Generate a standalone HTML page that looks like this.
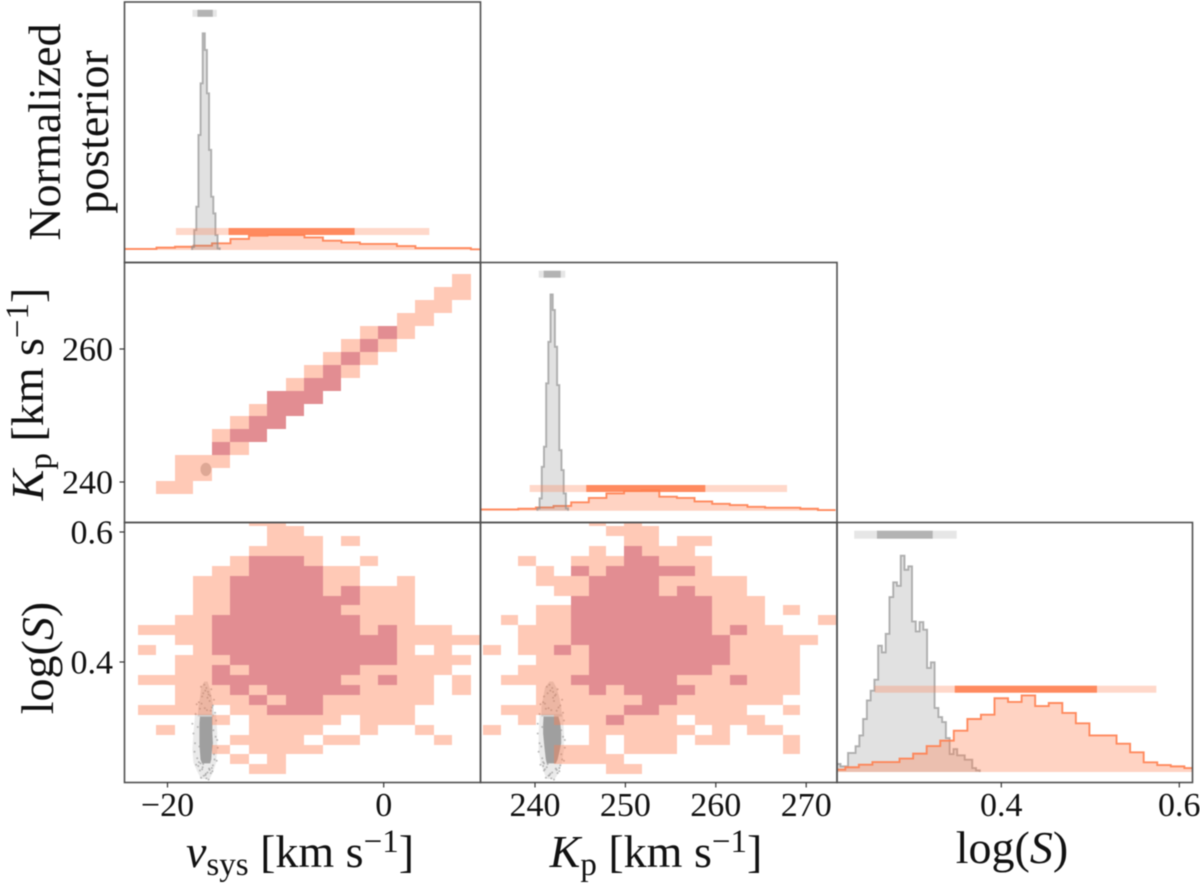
<!DOCTYPE html>
<html lang="en">
<head>
<meta charset="utf-8">
<title>Corner plot of posterior samples</title>
<style>
html,body{margin:0;padding:0;background:#fff;width:1200px;height:884px;overflow:hidden}
#chart{display:block;filter:blur(.45px)}
text{font-family:"Liberation Serif",serif;fill:#111}
.tick-label{font-size:34px}
.title{font-size:46px}
.sm{font-size:33px}
.it{font-style:italic}
.frame{fill:none;stroke:#505050;stroke-width:1.6}
.tick{stroke:#333;stroke-width:1.2}
</style>
</head>
<body>
<svg id="chart" xmlns="http://www.w3.org/2000/svg" width="1200" height="884" viewBox="0 0 1200 884">
<defs>
<clipPath id="clip-a"><rect x="124.5" y="2" width="356" height="260.5"/></clipPath>
<clipPath id="clip-b"><rect x="124.5" y="262.5" width="356" height="260"/></clipPath>
<clipPath id="clip-c"><rect x="124.5" y="522.5" width="356" height="260"/></clipPath>
<clipPath id="clip-d"><rect x="480.5" y="262.5" width="356.5" height="260"/></clipPath>
<clipPath id="clip-e"><rect x="480.5" y="522.5" width="356.5" height="260"/></clipPath>
<clipPath id="clip-f"><rect x="837" y="522.5" width="355.5" height="260"/></clipPath>
</defs>
<g id="layer-marks"></g>
<rect class="frame" x="124.5" y="2" width="356" height="260.5"/>
<rect class="frame" x="124.5" y="262.5" width="356" height="260"/>
<rect class="frame" x="124.5" y="522.5" width="356" height="260"/>
<rect class="frame" x="480.5" y="262.5" width="356.5" height="260"/>
<rect class="frame" x="480.5" y="522.5" width="356.5" height="260"/>
<rect class="frame" x="837" y="522.5" width="355.5" height="260"/>
<g id="layer-ticks"></g>
<text class="title" x="300" y="867" text-anchor="middle"><tspan class="it">v</tspan><tspan class="sm" baseline-shift="-8">sys</tspan> [km s<tspan class="sm" baseline-shift="15">−1</tspan>]</text>
<text class="title" x="656" y="867" text-anchor="middle"><tspan class="it">K</tspan><tspan class="sm" baseline-shift="-8">p</tspan> [km s<tspan class="sm" baseline-shift="15">−1</tspan>]</text>
<text class="title" x="1012" y="863" text-anchor="middle">log(<tspan class="it">S</tspan>)</text>
<text class="title" transform="translate(60 132) rotate(-90)" text-anchor="middle">Normalized</text>
<text class="title" transform="translate(108 132) rotate(-90)" text-anchor="middle">posterior</text>
<text class="title" transform="translate(43 394) rotate(-90)" text-anchor="middle"><tspan class="it">K</tspan><tspan class="sm" baseline-shift="-8">p</tspan> [km s<tspan class="sm" baseline-shift="15">−1</tspan>]</text>
<text class="title" transform="translate(53 658) rotate(-90)" text-anchor="middle">log(<tspan class="it">S</tspan>)</text>
</svg>
<script>
/* ---------- data ---------- */
const vsysTicks = [-20, 0];
const kpXTicks = [240, 250, 260, 270];
const kpYTicks = [240, 260];
const logsYTicks = [0.4, 0.6];
const logsXTicks = [0.4, 0.6];

/* 2D histogram bin layout, data units */
const vsysBinStart = -22.73;
const vsysBinWidth = 1.711;
const kpBinStart = 234.25;
const kpBinWidth = 1.95;
const logsBinTop = 0.6245;
const logsBinWidth = 0.01528;

/* credibility level of each bin: 0 outside, 1 = 2 sigma, 2 = 1 sigma */
const levelsKpVsys = [
[0,0,0,0,0,0,0,0,0,0,0,0,0,0,0,0,0,1,0],
[0,0,0,0,0,0,0,0,0,0,0,0,0,0,0,0,1,1,0],
[0,0,0,0,0,0,0,0,0,0,0,0,0,0,0,1,1,0,0],
[0,0,0,0,0,0,0,0,0,0,0,0,0,0,1,1,0,0,0],
[0,0,0,0,0,0,0,0,0,0,0,0,1,2,1,0,0,0,0],
[0,0,0,0,0,0,0,0,0,0,0,1,2,1,0,0,0,0,0],
[0,0,0,0,0,0,0,0,0,0,1,2,1,0,0,0,0,0,0],
[0,0,0,0,0,0,0,0,0,1,2,1,0,0,0,0,0,0,0],
[0,0,0,0,0,0,0,0,1,2,2,0,0,0,0,0,0,0,0],
[0,0,0,0,0,0,0,2,2,2,0,0,0,0,0,0,0,0,0],
[0,0,0,0,0,0,1,2,2,0,0,0,0,0,0,0,0,0,0],
[0,0,0,0,0,1,2,2,0,0,0,0,0,0,0,0,0,0,0],
[0,0,0,0,1,2,2,0,0,0,0,0,0,0,0,0,0,0,0],
[0,0,0,0,2,1,0,0,0,0,0,0,0,0,0,0,0,0,0],
[0,0,1,1,1,0,0,0,0,0,0,0,0,0,0,0,0,0,0],
[0,0,1,1,0,0,0,0,0,0,0,0,0,0,0,0,0,0,0],
[0,1,1,0,0,0,0,0,0,0,0,0,0,0,0,0,0,0,0]
];
const levelsLogsVsys = [
[0,0,0,0,0,0,1,1,0,0,0,0,0,0,0,0,0,0,0],
[0,0,0,0,0,0,0,1,1,0,0,0,0,0,0,0,0,0,0],
[0,0,0,0,0,0,0,1,1,1,0,1,0,0,0,0,0,0,0],
[0,0,0,0,0,0,1,1,1,1,0,0,0,0,0,0,0,0,0],
[0,0,0,0,0,1,2,2,2,1,0,0,1,0,0,0,0,0,0],
[0,0,0,0,1,1,2,2,2,2,1,1,0,0,0,0,0,0,0],
[0,0,0,1,1,2,2,2,2,2,1,1,0,0,1,0,0,0,0],
[0,0,0,1,1,2,2,2,2,2,1,2,1,1,1,0,0,0,0],
[0,0,0,1,1,2,2,2,2,2,2,2,1,1,1,0,0,0,0],
[0,0,0,1,1,2,2,2,2,2,2,1,1,1,1,0,0,0,0],
[0,0,1,1,2,2,2,2,2,2,2,2,1,1,1,0,0,0,0],
[1,1,1,1,2,2,2,2,2,2,2,2,1,2,1,1,1,0,0],
[0,0,1,1,2,2,2,2,2,2,2,2,2,2,1,1,1,1,1],
[1,0,0,1,2,2,2,2,2,2,2,2,2,2,1,0,1,0,0],
[0,0,1,1,1,2,2,2,2,2,2,2,2,2,1,1,1,1,0],
[0,0,1,1,2,1,2,2,2,2,2,2,1,1,1,1,1,0,0],
[1,1,1,1,2,2,2,2,2,2,2,1,1,2,1,1,0,1,0],
[0,0,1,1,1,2,1,2,2,2,2,2,1,1,1,1,0,1,0],
[0,0,1,1,1,1,2,1,2,2,1,1,1,1,1,1,0,0,0],
[1,1,1,1,0,1,1,2,2,2,1,1,1,1,1,0,0,0,0],
[0,0,0,0,1,0,1,1,1,1,1,0,1,1,1,0,0,0,0],
[0,1,0,0,0,0,1,1,1,1,0,0,1,0,0,1,0,0,0],
[0,0,0,0,0,1,1,1,1,0,1,1,0,0,0,0,1,0,0],
[0,0,0,0,1,0,1,1,1,1,0,0,0,0,0,0,0,0,0],
[0,0,0,0,0,1,0,1,0,0,0,0,0,0,0,0,0,0,0],
[0,0,0,0,0,0,1,1,0,0,0,0,0,0,0,0,0,0,0]
];
const levelsLogsKp = [
[0,0,0,0,0,0,1,0,1,0,0,0,0,0,0,0,0,0,0,0],
[0,0,0,0,0,0,0,1,1,1,0,0,0,0,0,0,0,0,0,0],
[0,0,0,0,0,0,0,0,1,1,0,1,1,0,0,0,0,0,0,0],
[0,0,0,0,0,0,1,0,2,1,1,1,0,0,0,0,0,0,0,0],
[0,0,1,0,0,1,1,1,2,2,1,1,1,0,0,0,0,0,0,0],
[0,0,0,1,0,2,1,2,2,2,2,2,1,0,0,0,0,0,0,0],
[0,0,0,1,1,1,2,2,2,2,1,1,1,1,1,0,0,0,0,0],
[0,0,0,0,1,1,2,2,2,2,1,2,1,1,1,0,0,0,0,0],
[0,0,0,0,0,2,2,2,2,2,2,2,2,1,1,1,0,0,0,0],
[0,0,0,1,1,2,2,2,2,2,2,2,2,1,1,1,0,1,0,0],
[0,1,0,1,1,2,2,2,2,2,2,2,2,1,1,1,0,0,0,1],
[0,0,1,1,1,2,2,2,2,2,2,2,2,1,2,1,1,0,0,0],
[0,0,1,1,1,2,2,2,2,2,2,2,2,2,1,1,1,1,1,0],
[1,0,1,1,2,1,2,2,2,2,2,2,2,2,1,1,1,1,0,0],
[0,0,0,1,1,1,2,2,2,2,2,2,2,2,1,1,1,1,0,0],
[0,0,1,1,1,1,2,2,2,2,2,2,2,1,1,1,1,1,0,0],
[0,1,1,1,1,2,2,2,2,2,2,1,1,1,2,1,1,1,0,0],
[0,0,0,1,1,1,2,1,2,2,2,2,1,1,1,1,1,1,0,0],
[0,0,0,1,1,1,1,1,1,2,2,1,1,1,1,1,1,0,0,0],
[0,1,1,1,1,1,1,1,2,2,1,1,1,1,1,0,0,1,0,0],
[0,0,1,0,1,1,1,2,1,1,1,0,1,1,1,1,0,0,0,0],
[1,0,0,0,0,0,1,1,1,1,1,1,0,1,0,1,1,0,0,0],
[0,0,0,0,0,0,1,0,1,1,1,0,1,1,0,0,0,1,0,0],
[0,0,0,0,1,1,1,0,1,1,1,0,0,0,0,0,0,1,0,0],
[0,0,0,0,1,1,1,1,0,0,0,0,0,0,0,0,0,0,0,0],
[0,0,0,0,0,0,0,1,1,0,0,0,0,0,0,0,0,0,0,0]
];

/* 1D histograms: bin start, bin width, normalised heights */
const orangeVsysStart = -24.441;
const orangeVsysWidth = 1.711;
const orangeVsys = [.005,.005,.011,.015,.02,.031,.051,.066,.069,.069,.058,.043,.035,.028,.028,.018,.009,.009,.009,.003];
const greyVsysStart = -17.73;
const greyVsysWidth = 0.197;
const greyVsys = [.015,.092,.2,.531,.769,1,.923,.723,.462,.246,.169,.069,.008];

const orangeKpStart = 232.3;
const orangeKpWidth = 1.95;
const orangeKp = [.006,.006,.006,.009,.015,.022,.039,.059,.08,.091,.094,.065,.059,.043,.032,.026,.018,.014,.014,.009,.003];
const greyKpStart = 240.26;
const greyKpWidth = 0.243;
const greyKp = [.011,.057,.203,.296,.589,.781,1,.928,.758,.581,.28,.188,.08,.011];

const orangeLogsStart = 0.20946;
const orangeLogsWidth = 0.01524;
const orangeLogs = [.011,.022,.034,.046,.046,.062,.085,.12,.145,.191,.245,.265,.341,.324,.354,.305,.319,.273,.225,.169,.169,.131,.091,.045,.032,.026,.018];
const greyLogsStart = 0.2151;
const greyLogsWidth = 0.00423;
const greyLogs = [.037,.026,.026,.088,.088,.119,.169,.245,.331,.376,.427,.584,.553,.639,.809,.877,.861,1,.935,.951,.696,.65,.693,.658,.481,.507,.296,.254,.231,.157,.083,.106,.077,.077,.057,.057,.018,.008];

/* credible intervals: [outer low, inner low, inner high, outer high] */
const orangeVsysCI = [-19.22,-14.35,-2.69,4.22];
const greyVsysCI = [-17.69,-17.23,-15.81,-15.44];
const orangeKpCI = [239.41,245.67,258.84,267.88];
const greyKpCI = [240.41,240.96,242.84,243.35];
const orangeLogsCI = [0.2577,0.3477,0.5075,0.5742];
const greyLogsCI = [0.2348,0.2603,0.3229,0.3499];

/* density bands of the grey sample cloud, per log(S) level */
const coreLogs = [0.316,0.305,0.29,0.275,0.262,0.25,0.244];
const coreVsysLow = [-17.0,-17.05,-17.05,-17.05,-17.0,-16.95,-16.8];
const coreVsysHigh = [-15.85,-15.85,-15.85,-15.8,-15.9,-15.95,-16.05];
const coreKpLow = [240.95,240.9,240.9,241.0,241.1,241.2,241.3];
const coreKpHigh = [242.6,242.8,242.9,242.9,242.7,242.5,242.3];

const upperLogs = [0.316,0.33,0.345,0.36,0.37];
const upperVsysLow = [-17.2,-17.15,-17.0,-16.9,-16.6];
const upperVsysHigh = [-15.7,-15.75,-15.9,-16.1,-16.3];
const upperKpLow = [240.7,240.7,240.9,241.1,241.6];
const upperKpHigh = [243.0,242.9,242.7,242.4,242.0];

const haloLogs = [0.32,0.29,0.265,0.245,0.23,0.22];
const haloVsysLow = [-17.45,-17.6,-17.7,-17.6,-17.2,-16.9];
const haloVsysHigh = [-15.5,-15.4,-15.4,-15.5,-15.8,-16.1];
const haloKpLow = [240.5,240.4,240.4,240.6,241.0,241.3];
const haloKpHigh = [243.1,243.2,243.2,243.0,242.6,242.2];

/* individual grey samples outside the core, read by eye */
const sampleVsys = [-16.9,-16.2,-15.7,-17.1,-16.5,-15.9,-16.8,-16.0,-17.3,-15.6,-16.4,-17.0,-16.1,-15.8,-16.7,-17.4,-16.3,-15.5,-16.6,-17.2,-15.95,-16.35,-17.6,-15.4,-16.85,-16.05,-17.05,-15.75,-16.55,-16.25,-17.5,-15.65,-16.95,-16.15,-17.15,-15.85,-16.45,-16.75,-17.35,-15.45,-16.65,-16.1,-17.25,-15.7,-16.3,-16.9,-17.45,-15.55,-16.2,-17.7,-15.35,-16.5,-16.8,-16.0,-17.1,-15.9,-16.4,-16.7,-17.0,-15.8];
const sampleKp = [241.3,242.3,243.0,240.9,241.7,242.6,241.0,242.4,240.6,243.1,241.9,241.2,242.1,242.8,241.4,240.5,242.0,243.2,241.6,240.8,242.5,241.8,240.3,243.3,241.1,242.2,240.7,242.9,241.5,242.0,240.4,243.0,241.0,242.3,240.9,242.7,241.7,241.3,240.6,243.2,241.5,242.4,240.8,242.9,241.9,241.2,240.5,243.1,242.1,240.3,243.3,241.6,241.1,242.5,240.9,242.7,241.8,241.4,241.0,242.8];
const sampleLogs = [.362,.35,.342,.338,.356,.33,.347,.325,.335,.322,.36,.328,.34,.333,.352,.32,.345,.31,.365,.3,.358,.326,.29,.28,.336,.348,.27,.295,.329,.354,.262,.25,.244,.236,.24,.232,.228,.238,.242,.248,.225,.234,.252,.258,.23,.222,.275,.285,.219,.305,.268,.226,.235,.229,.246,.237,.221,.243,.233,.241];

/* ---------- axis functions ---------- */
const xVsys = v => 383.7 + (v - 0) * 10.81;
const xKp = k => 535 + (k - 240) * 9.04;
const xLogs = s => 1001.3 + (s - 0.4) * 890;
const yKp = k => 349 - (k - 260) * 6.65;
const yLogs = s => 662 - (s - 0.4) * 650;

/* ---------- drawing helpers ---------- */
const NS = 'http://www.w3.org/2000/svg';
const marks = document.getElementById('layer-marks');
const ticksLayer = document.getElementById('layer-ticks');

function make(tag, parent, attrs) {
  const el = document.createElementNS(NS, tag);
  for (const k in attrs) el.setAttribute(k, attrs[k]);
  parent.appendChild(el);
  return el;
}
function group(name, clip) {
  const g = make('g', marks, {'clip-path': 'url(#' + clip + ')'});
  
  
  return g;
}
function heatCells(parent, rows, xEdge, yEdge) {
  rows.forEach((row, r) => row.forEach((level, c) => {
    if (!level) return;
    const x0 = Math.round(xEdge(c)), x1 = Math.round(xEdge(c + 1)), y0 = Math.round(yEdge(r)), y1 = Math.round(yEdge(r + 1));
    const cell = make('rect', parent, {
      x: x0, y: y0, width: x1 - x0, height: y1 - y0,
      'shape-rendering': 'crispEdges',
      fill: level === 2 ? 'rgb(210,80,88)' : 'rgb(255,127,80)',
      'fill-opacity': level === 2 ? .65 : .42
    });
    
    
  }));
}
function histogram(parent, name, start, width, values, xFn, base, scale, stroke, fill, strokeOpacity, closed) {
  let line = '';
  values.forEach((h, i) => {
    const x0 = xFn(start + i * width), x1 = xFn(start + (i + 1) * width), y = base - h * scale;
    line += (i === 0 ? 'M' + x0 + ' ' + (closed ? base : y) + 'L' + x0 + ' ' + y : 'L' + x0 + ' ' + y) + 'L' + x1 + ' ' + y;
  });
  const xEnd = xFn(start + values.length * width), xBeg = xFn(start);
  const area = make('path', parent, {d: line + 'L' + xEnd + ' ' + base + 'L' + xBeg + ' ' + base + 'Z', fill: fill, stroke: 'none'});
  
  
  if (closed) line += 'L' + xEnd + ' ' + base;
  const outline = make('path', parent, {d: line, fill: 'none', stroke: stroke, 'stroke-width': 1.9, 'stroke-opacity': strokeOpacity});
  
  
}
function ciBar(parent, name, ci, xFn, y, h, color, lightOpacity, darkOpacity) {
  const outer = make('rect', parent, {x: xFn(ci[0]), y: y, width: xFn(ci[3]) - xFn(ci[0]), height: h, fill: color, 'fill-opacity': lightOpacity});
  
  
  const inner = make('rect', parent, {x: xFn(ci[1]), y: y, width: xFn(ci[2]) - xFn(ci[1]), height: h, fill: color, 'fill-opacity': darkOpacity});
  
  
}
function band(parent, name, levels, lows, highs, xFn, yFn, fill, opacity) {
  const left = lows.map((v, i) => xFn(v) + ' ' + yFn(levels[i]));
  const right = highs.map((v, i) => xFn(v) + ' ' + yFn(levels[i])).reverse();
  const poly = make('polygon', parent, {points: left.concat(right).join(' '), fill: fill, 'fill-opacity': opacity});
  
  
}
function cloud(parent, name, xs, ys, xFn, yFn) {
  xs.forEach((v, i) => {
    const p = make('circle', parent, {cx: xFn(v), cy: yFn(ys[i]), r: 1, fill: '#8f8f8f', 'fill-opacity': .6});
    
    
  });
}
function tick(x1, y1, x2, y2) {
  const t = make('line', ticksLayer, {x1: x1, y1: y1, x2: x2, y2: y2, class: 'tick'});
  
  
}
function tickLabel(str, x, y, anchor) {
  const t = make('text', ticksLayer, {x: x, y: y, 'text-anchor': anchor, class: 'tick-label'});
  t.textContent = str;
  
  
}

/* ---------- panels ---------- */
const vsysEdge = c => xVsys(vsysBinStart + c * vsysBinWidth);
const kpEdge = c => xKp(kpBinStart + c * kpBinWidth);
const kpRowEdge = r => yKp(kpBinStart + (19 - r) * kpBinWidth);
const logsRowEdge = r => yLogs(logsBinTop - r * logsBinWidth);

const gA = group('vsys-histogram', 'clip-a');
histogram(gA, 'orange-vsys-histogram', orangeVsysStart, orangeVsysWidth, orangeVsys, xVsys, 250, 216.7, '#ff7f50', 'rgba(255,127,80,.34)', .9, false);
histogram(gA, 'grey-vsys-histogram', greyVsysStart, greyVsysWidth, greyVsys, xVsys, 250, 216.7, '#8c8c8c', 'rgba(128,128,128,.24)', .65, true);
ciBar(gA, 'orange-vsys-interval', orangeVsysCI, xVsys, 228, 7, '#ff7f50', .3, .88);
ciBar(gA, 'grey-vsys-interval', greyVsysCI, xVsys, 9.8, 7, '#808080', .2, .5);

const gB = group('kp-vs-vsys-scatter', 'clip-b');
const blob = make('ellipse', gB, {cx: xVsys((coreVsysLow[2] + coreVsysHigh[2]) / 2), cy: yKp((coreKpLow[2] + coreKpHigh[2]) / 2), rx: (xVsys(coreVsysHigh[2]) - xVsys(coreVsysLow[2])) / 2.4, ry: (yKp(coreKpLow[2]) - yKp(coreKpHigh[2])) / 2, fill: '#8f8f8f', 'fill-opacity': .5});


heatCells(gB, levelsKpVsys, vsysEdge, kpRowEdge);

const gC = group('logs-vs-vsys-scatter', 'clip-c');
band(gC, 'grey-logs-vsys-halo', haloLogs, haloVsysLow, haloVsysHigh, xVsys, yLogs, '#b5b5b5', .28);
band(gC, 'grey-logs-vsys-upper', upperLogs, upperVsysLow, upperVsysHigh, xVsys, yLogs, '#8f8f8f', .3);
cloud(gC, 'grey-logs-vsys', sampleVsys, sampleLogs, xVsys, yLogs);
band(gC, 'grey-logs-vsys-core', coreLogs, coreVsysLow, coreVsysHigh, xVsys, yLogs, '#9f9f9f', 1);
heatCells(gC, levelsLogsVsys, vsysEdge, logsRowEdge);

const gD = group('kp-histogram', 'clip-d');
histogram(gD, 'orange-kp-histogram', orangeKpStart, orangeKpWidth, orangeKp, xKp, 510.7, 216.3, '#ff7f50', 'rgba(255,127,80,.34)', .9, false);
histogram(gD, 'grey-kp-histogram', greyKpStart, greyKpWidth, greyKp, xKp, 510.7, 216.3, '#8c8c8c', 'rgba(128,128,128,.24)', .65, true);
ciBar(gD, 'orange-kp-interval', orangeKpCI, xKp, 485, 7, '#ff7f50', .3, .88);
ciBar(gD, 'grey-kp-interval', greyKpCI, xKp, 270.7, 7, '#808080', .2, .5);

const gE = group('logs-vs-kp-scatter', 'clip-e');
band(gE, 'grey-logs-kp-halo', haloLogs, haloKpLow, haloKpHigh, xKp, yLogs, '#b5b5b5', .28);
band(gE, 'grey-logs-kp-upper', upperLogs, upperKpLow, upperKpHigh, xKp, yLogs, '#8f8f8f', .3);
cloud(gE, 'grey-logs-kp', sampleKp, sampleLogs, xKp, yLogs);
band(gE, 'grey-logs-kp-core', coreLogs, coreKpLow, coreKpHigh, xKp, yLogs, '#9f9f9f', 1);
heatCells(gE, levelsLogsKp, kpEdge, logsRowEdge);

const gF = group('logs-histogram', 'clip-f');
histogram(gF, 'grey-logs-histogram', greyLogsStart, greyLogsWidth, greyLogs, xLogs, 772, 216.3, '#8c8c8c', 'rgba(128,128,128,.24)', .65, true);
histogram(gF, 'orange-logs-histogram', orangeLogsStart, orangeLogsWidth, orangeLogs, xLogs, 772, 216.3, '#ff7f50', 'rgba(255,127,80,.34)', .9, false);
ciBar(gF, 'orange-logs-interval', orangeLogsCI, xLogs, 685.7, 7, '#ff7f50', .3, .88);
ciBar(gF, 'grey-logs-interval', greyLogsCI, xLogs, 530.7, 8, '#808080', .2, .5);

/* ---------- ticks ---------- */
vsysTicks.forEach(v => {
  tick(xVsys(v), 782.5, xVsys(v), 787.5);
  tickLabel(String(v).replace('-', '−'), xVsys(v), 816, 'middle');
});
kpXTicks.forEach(v => {
  tick(xKp(v), 782.5, xKp(v), 787.5);
  tickLabel(String(v), xKp(v), 816, 'middle');
});
logsXTicks.forEach(v => {
  tick(xLogs(v), 782.5, xLogs(v), 787.5);
  tickLabel(v.toFixed(1), xLogs(v), 816, 'middle');
});
kpYTicks.forEach(v => {
  tick(124.5, yKp(v), 119.5, yKp(v));
  tickLabel(String(v), 113, yKp(v) + 11.5, 'end');
});
logsYTicks.forEach(v => {
  tick(124.5, yLogs(v), 119.5, yLogs(v));
  tickLabel(v.toFixed(1), 113, yLogs(v) + 11.5, 'end');
});
</script>
</body>
</html>
